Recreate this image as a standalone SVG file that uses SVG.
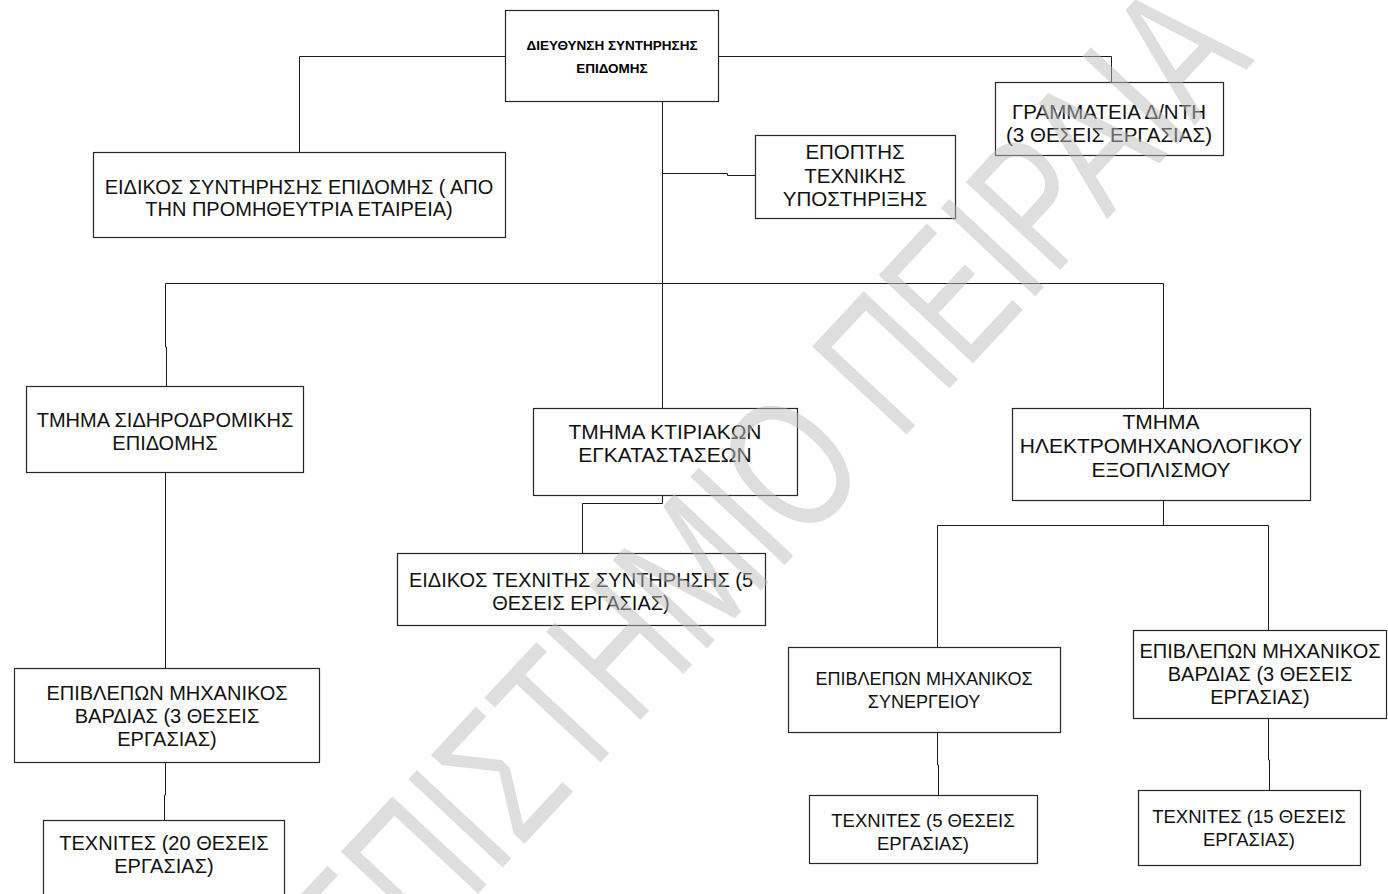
<svg xmlns="http://www.w3.org/2000/svg" width="1388" height="894" viewBox="0 0 1388 894">
  <style>
    .box { fill: none; stroke: #262626; stroke-width: 1.2; }
    .lbl { font-family: "Liberation Sans", Arial, sans-serif; font-size: 20px; fill: #111; text-anchor: middle; }
    .ttl { font-family: "Liberation Sans", Arial, sans-serif; font-size: 13.5px; font-weight: bold; fill: #000; text-anchor: middle; }
    .wire { fill: none; stroke: #1a1a1a; stroke-width: 1; }
    .mark { font-family: "Liberation Sans", Arial, sans-serif; font-size: 150px; fill: #bdbdbd; fill-opacity: 0.5; }
  </style>
  <rect width="1388" height="894" fill="#ffffff"/>

  <!-- connectors -->
  <g id="connectors">
    <path class="wire" d="M505,56.5 H299.5 V152"/>
    <path class="wire" d="M718,56.5 H1111.5 V82"/>
    <path class="wire" d="M662.5,101 V408"/>
    <path class="wire" d="M662.5,173.5 H727.5 V175.5 H755"/>
    <path class="wire" d="M165.5,283.5 H1163.5"/>
    <path class="wire" d="M165.5,283.5 V347 H166.5 V386"/>
    <path class="wire" d="M1163.5,283.5 V408"/>
    <path class="wire" d="M662.5,495 V503.5 H582.5 V553"/>
    <path class="wire" d="M165.5,472 V668"/>
    <path class="wire" d="M165.5,762 V795 H164.5 V820"/>
    <path class="wire" d="M1163.5,500 V525.5"/>
    <path class="wire" d="M937.5,647 V525.5 H1268.5 V630"/>
    <path class="wire" d="M937.5,732 V765 H938.5 V795"/>
    <path class="wire" d="M1268.5,718 V760 H1269.5 V790"/>
  </g>

  <!-- nodes -->
  <g id="n-director">
    <rect class="box" x="505.5" y="10.5" width="213" height="91"/>
    <text class="ttl" x="612" y="50">ΔΙΕΥΘΥΝΣΗ ΣΥΝΤΗΡΗΣΗΣ</text>
    <text class="ttl" x="612" y="73">ΕΠΙΔΟΜΗΣ</text>
  </g>
  <g id="n-specialist">
    <rect class="box" x="93.5" y="152.5" width="412" height="85"/>
    <text class="lbl" x="299" y="194">ΕΙΔΙΚΟΣ ΣΥΝΤΗΡΗΣΗΣ ΕΠΙΔΟΜΗΣ ( ΑΠΟ</text>
    <text class="lbl" x="299" y="216">ΤΗΝ ΠΡΟΜΗΘΕΥΤΡΙΑ ΕΤΑΙΡΕΙΑ)</text>
  </g>
  <g id="n-secretariat">
    <rect class="box" x="995.5" y="82.5" width="228" height="73"/>
    <text class="lbl" x="1109" y="119" style="font-size:20.5px">ΓΡΑΜΜΑΤΕΙΑ Δ/ΝΤΗ</text>
    <text class="lbl" x="1109" y="142" style="font-size:20.5px">(3 ΘΕΣΕΙΣ ΕΡΓΑΣΙΑΣ)</text>
  </g>
  <g id="n-supervisor">
    <rect class="box" x="755.5" y="135.5" width="200" height="83"/>
    <text class="lbl" x="855" y="159" style="font-size:20.5px">ΕΠΟΠΤΗΣ</text>
    <text class="lbl" x="855" y="183" style="font-size:20.5px">ΤΕΧΝΙΚΗΣ</text>
    <text class="lbl" x="855" y="206" style="font-size:20.5px">ΥΠΟΣΤΗΡΙΞΗΣ</text>
  </g>
  <g id="n-railway">
    <rect class="box" x="26.5" y="386.5" width="277" height="86"/>
    <text class="lbl" x="165" y="427">ΤΜΗΜΑ ΣΙΔΗΡΟΔΡΟΜΙΚΗΣ</text>
    <text class="lbl" x="165" y="450">ΕΠΙΔΟΜΗΣ</text>
  </g>
  <g id="n-buildings">
    <rect class="box" x="533.5" y="408.5" width="264" height="87"/>
    <text class="lbl" x="665" y="439" style="font-size:21px">ΤΜΗΜΑ ΚΤΙΡΙΑΚΩΝ</text>
    <text class="lbl" x="665" y="462" style="font-size:21px">ΕΓΚΑΤΑΣΤΑΣΕΩΝ</text>
  </g>
  <g id="n-electromech">
    <rect class="box" x="1012.5" y="408.5" width="298" height="92"/>
    <text class="lbl" x="1161" y="429" style="font-size:21px">ΤΜΗΜΑ</text>
    <text class="lbl" x="1161" y="453" style="font-size:21px">ΗΛΕΚΤΡΟΜΗΧΑΝΟΛΟΓΙΚΟΥ</text>
    <text class="lbl" x="1161" y="477" style="font-size:21px">ΕΞΟΠΛΙΣΜΟΥ</text>
  </g>
  <g id="n-buildtech">
    <rect class="box" x="397.5" y="553.5" width="368" height="72"/>
    <text class="lbl" x="581" y="587">ΕΙΔΙΚΟΣ ΤΕΧΝΙΤΗΣ ΣΥΝΤΗΡΗΣΗΣ (5</text>
    <text class="lbl" x="581" y="610">ΘΕΣΕΙΣ ΕΡΓΑΣΙΑΣ)</text>
  </g>
  <g id="n-rail-shift">
    <rect class="box" x="14.5" y="668.5" width="305" height="94"/>
    <text class="lbl" x="167" y="700">ΕΠΙΒΛΕΠΩΝ ΜΗΧΑΝΙΚΟΣ</text>
    <text class="lbl" x="167" y="723">ΒΑΡΔΙΑΣ (3 ΘΕΣΕΙΣ</text>
    <text class="lbl" x="167" y="746">ΕΡΓΑΣΙΑΣ)</text>
  </g>
  <g id="n-rail-tech">
    <rect class="box" x="43.5" y="820.5" width="241" height="90"/>
    <text class="lbl" x="164" y="850">ΤΕΧΝΙΤΕΣ (20 ΘΕΣΕΙΣ</text>
    <text class="lbl" x="164" y="873">ΕΡΓΑΣΙΑΣ)</text>
  </g>
  <g id="n-workshop">
    <rect class="box" x="788.5" y="647.5" width="272" height="85"/>
    <text class="lbl" x="924" y="685" style="font-size:18px">ΕΠΙΒΛΕΠΩΝ ΜΗΧΑΝΙΚΟΣ</text>
    <text class="lbl" x="924" y="708" style="font-size:18px">ΣΥΝΕΡΓΕΙΟΥ</text>
  </g>
  <g id="n-em-shift">
    <rect class="box" x="1133.5" y="630.5" width="253" height="88"/>
    <text class="lbl" x="1260" y="658">ΕΠΙΒΛΕΠΩΝ ΜΗΧΑΝΙΚΟΣ</text>
    <text class="lbl" x="1260" y="681">ΒΑΡΔΙΑΣ (3 ΘΕΣΕΙΣ</text>
    <text class="lbl" x="1260" y="704">ΕΡΓΑΣΙΑΣ)</text>
  </g>
  <g id="n-em-tech5">
    <rect class="box" x="809.5" y="795.5" width="228" height="68"/>
    <text class="lbl" x="923" y="827" style="font-size:18.5px">ΤΕΧΝΙΤΕΣ (5 ΘΕΣΕΙΣ</text>
    <text class="lbl" x="923" y="850" style="font-size:18.5px">ΕΡΓΑΣΙΑΣ)</text>
  </g>
  <g id="n-em-tech15">
    <rect class="box" x="1138.5" y="790.5" width="222" height="75"/>
    <text class="lbl" x="1249" y="823" style="font-size:18.5px">ΤΕΧΝΙΤΕΣ (15 ΘΕΣΕΙΣ</text>
    <text class="lbl" x="1249" y="846" style="font-size:18.5px">ΕΡΓΑΣΙΑΣ)</text>
  </g>

  <!-- diagonal watermark over the page -->
  <text class="mark" transform="translate(172,1222) rotate(-47) scale(0.9,1.25)">ΠΑΝΕΠΙΣΤΗΜΙΟ ΠΕΙΡΑΙΑ</text>
</svg>
